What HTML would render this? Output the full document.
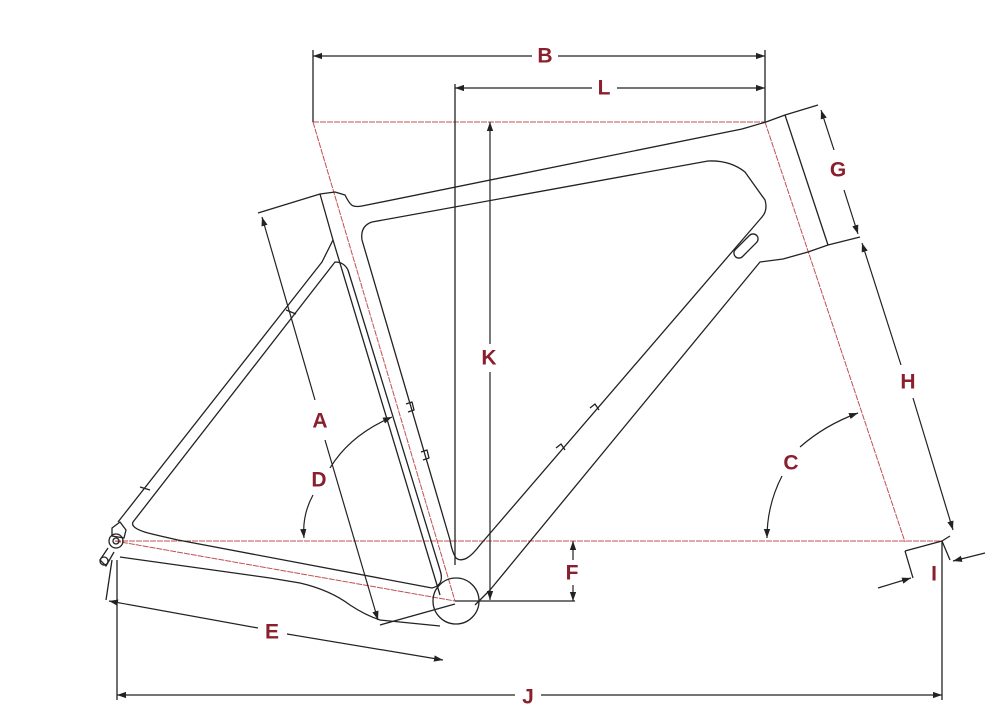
<!DOCTYPE html>
<html><head><meta charset="utf-8"><style>
html,body{margin:0;padding:0;background:#fff;}
svg{display:block}
text{font-family:"Liberation Sans",sans-serif;font-weight:bold;font-size:21px;fill:#8a1f2d;text-anchor:middle;dominant-baseline:central}
</style></head><body>
<svg width="993" height="726" viewBox="0 0 993 726" xmlns="http://www.w3.org/2000/svg">
<defs>
<marker id="a" viewBox="0 0 10 10" refX="10" refY="5" markerWidth="9" markerHeight="9" orient="auto-start-reverse" markerUnits="userSpaceOnUse"><path d="M0,1.5 L10,5 L0,8.5z" fill="#222"/></marker>
</defs>
<g stroke="#c05050" stroke-width="1" fill="none" stroke-dasharray="6 1">
<line x1="313" y1="122" x2="765" y2="122"/>
<line x1="313" y1="122" x2="455" y2="601"/>
<line x1="765" y1="122" x2="905" y2="542"/>
<line x1="115" y1="541" x2="942" y2="541"/>
<line x1="115" y1="541" x2="455" y2="601"/>
</g>
<g stroke="#222" stroke-width="1.3" fill="none" stroke-linejoin="round">
<path d="M258,213 L320,194 L335,192 L345,195 C350,205 352,208 362,206 L742,129 L766,122 L785,115 L818,105"/>
<path d="M860,237 L828,245 L808,252 L783,259 L760,262 L490,590 L475,605"/>
<line x1="785" y1="115" x2="828" y2="245"/>
<path d="M320,194 L333,240 L440,595"/>
<path d="M372,222 L708,161 Q730,160 745,172 L765,200 Q768,210 762,217 L480,545 Q465,565 456,558 Q452,552 450,540 L362,240 Q360,226 372,222z"/>
<rect x="731" y="241" width="30" height="10" rx="5" transform="rotate(-45 746 246)"/>
<path d="M333,240 L322,262 L118,522"/>
<path d="M335,262 Q344,262 348,270 L440,570 Q445,585 432,588 L178,540 Q160,536 148,533 Q130,528 133,522 Z"/>
<path d="M120,557 L270,578 L300,583 Q330,590 350,605 Q365,615 380,620 L440,626"/>
<line x1="140" y1="487" x2="150" y2="490"/>
<line x1="286" y1="310" x2="296" y2="314"/>
<circle cx="456" cy="601" r="23"/>
<circle cx="116" cy="541" r="7"/>
<circle cx="116" cy="541" r="3"/>
<circle cx="104" cy="561" r="4"/>
<path d="M112,528 L120,522 L126,530 L124,538 L112,536z"/>
<path d="M108,548 L100,560 L106,566 L114,552"/>
<path d="M406,404 L412,402 L414,410 L408,412"/>
<path d="M421,452 L427,450 L429,458 L423,460"/>
<path d="M590,408 L595,404 L599,410"/>
<path d="M556,448 L561,444 L565,450"/>
<path d="M905,551 L913,578"/>
<path d="M905,551 L942,541 L950,536"/>
<path d="M942,541 L950,560"/>
<line x1="313" y1="50" x2="313" y2="122"/>
<line x1="765" y1="50" x2="765" y2="122"/>
<line x1="455" y1="84" x2="455" y2="565"/>
<line x1="455" y1="601" x2="575" y2="601"/>
<line x1="117" y1="560" x2="117" y2="700"/>
<line x1="942" y1="541" x2="942" y2="700"/>
<line x1="106" y1="600" x2="112" y2="560"/>
<line x1="380" y1="625" x2="455" y2="604"/>
</g>
<g stroke="#222" stroke-width="1.2" fill="none">
<line x1="313" y1="56" x2="532" y2="56" marker-start="url(#a)"/>
<line x1="558" y1="56" x2="765" y2="56" marker-end="url(#a)"/>
<line x1="455" y1="88" x2="592" y2="88" marker-start="url(#a)"/>
<line x1="617" y1="88" x2="765" y2="88" marker-end="url(#a)"/>
<line x1="490" y1="122" x2="490" y2="344" marker-start="url(#a)"/>
<line x1="490" y1="372" x2="490" y2="600" marker-end="url(#a)"/>
<line x1="821" y1="110" x2="834" y2="150" marker-start="url(#a)"/>
<line x1="844" y1="190" x2="858" y2="234" marker-end="url(#a)"/>
<line x1="862" y1="243" x2="901" y2="365" marker-start="url(#a)"/>
<line x1="913" y1="398" x2="953" y2="530" marker-end="url(#a)"/>
<line x1="262" y1="217" x2="315" y2="400" marker-start="url(#a)"/>
<line x1="325" y1="440" x2="378" y2="620" marker-end="url(#a)"/>
<line x1="109" y1="601" x2="258" y2="628" marker-start="url(#a)"/>
<line x1="287" y1="634" x2="443" y2="660" marker-end="url(#a)"/>
<line x1="117" y1="695" x2="515" y2="695" marker-start="url(#a)"/>
<line x1="541" y1="695" x2="942" y2="695" marker-end="url(#a)"/>
<line x1="573" y1="560" x2="573" y2="541" marker-end="url(#a)"/>
<line x1="573" y1="585" x2="573" y2="601" marker-end="url(#a)"/>
<line x1="878" y1="588" x2="911" y2="578" marker-end="url(#a)"/>
<line x1="985" y1="553" x2="953" y2="561" marker-end="url(#a)"/>
<path d="M330,468 Q350,435 392,417" marker-end="url(#a)"/>
<path d="M313,495 Q302,515 304,538" marker-end="url(#a)"/>
<path d="M800,447 Q825,425 858,413" marker-end="url(#a)"/>
<path d="M782,476 Q767,505 767,538" marker-end="url(#a)"/>
</g>
<text x="545" y="56">B</text>
<text x="604" y="88">L</text>
<text x="489" y="358">K</text>
<text x="838" y="170">G</text>
<text x="908" y="382">H</text>
<text x="320" y="421">A</text>
<text x="319" y="480">D</text>
<text x="791" y="463">C</text>
<text x="572" y="573">F</text>
<text x="934" y="574">I</text>
<text x="272" y="632">E</text>
<text x="528" y="697">J</text>
</svg>
</body></html>
